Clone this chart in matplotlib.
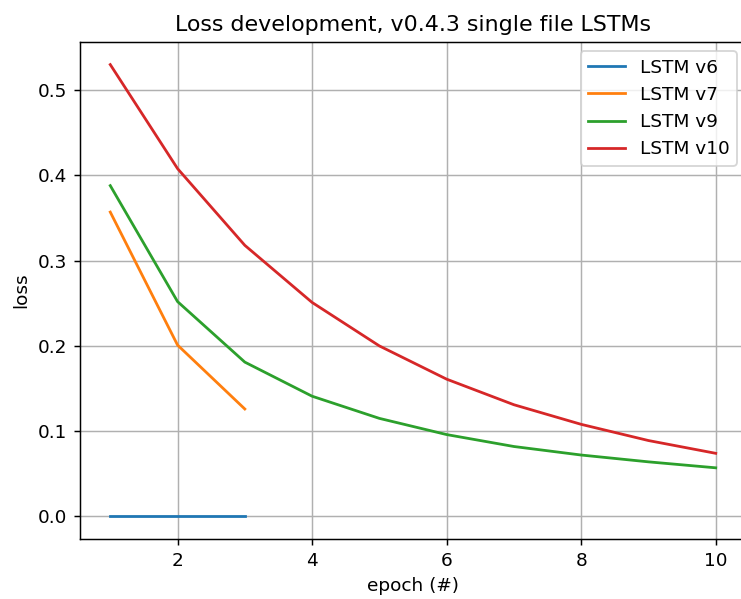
import matplotlib
matplotlib.use('Agg')
import matplotlib.pyplot as plt

epochs_short = [1, 2, 3]
epochs_long = [1, 2, 3, 4, 5, 6, 7, 8, 9, 10]

loss_v6 = [0.0, 0.0, 0.0]
loss_v7 = [0.357, 0.201, 0.126]
loss_v9 = [0.388, 0.252, 0.181, 0.141, 0.115, 0.096, 0.082, 0.072, 0.064, 0.057]
loss_v10 = [0.530, 0.408, 0.318, 0.251, 0.200, 0.161, 0.131, 0.108, 0.089, 0.074]

dpi = 133
fig = plt.figure(figsize=(741 / dpi, 599 / dpi), dpi=dpi)
# the reference is a crop: the axes run slightly past the right edge
ax = fig.add_axes([80 / 741, 60 / 599, 666 / 741, 497 / 599])
ax.plot(epochs_short, loss_v6, label='LSTM v6')
ax.plot(epochs_short, loss_v7, label='LSTM v7')
ax.plot(epochs_long, loss_v9, label='LSTM v9')
ax.plot(epochs_long, loss_v10, label='LSTM v10')

ax.set_title('Loss development, v0.4.3 single file LSTMs')
ax.set_xlabel('epoch (#)')
ax.set_ylabel('loss')
ax.grid(True)
ax.spines['right'].set_visible(False)  # cropped off in the reference
ax.legend(loc='upper right')
plt.savefig('out.png', dpi=dpi)
